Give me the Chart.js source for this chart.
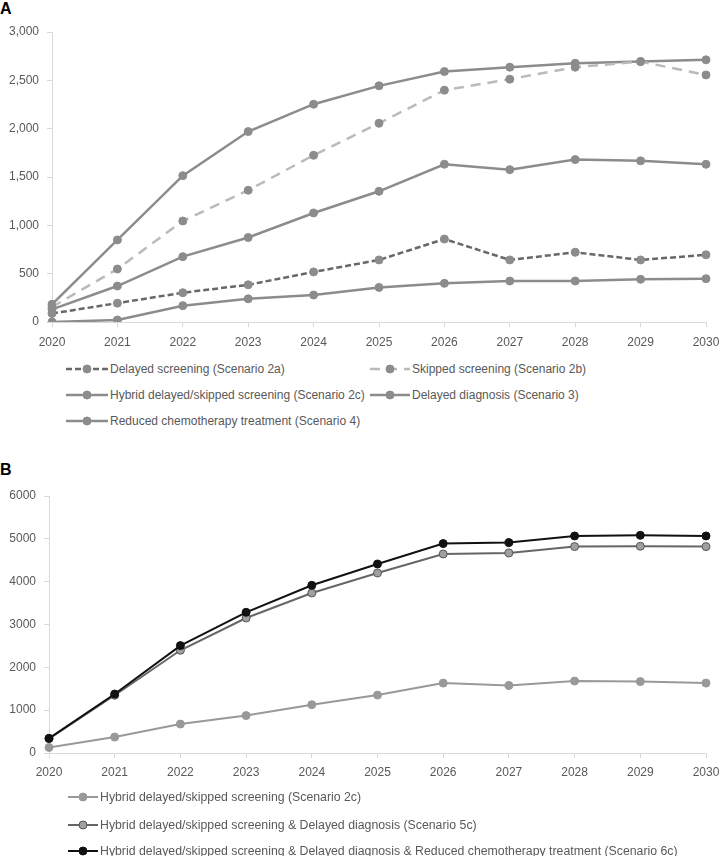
<!DOCTYPE html>
<html>
<head>
<meta charset="utf-8">
<script src="https://cdn.jsdelivr.net/npm/chart.js@4.4.1/dist/chart.umd.min.js"></script>
<style>
  body { margin: 0; background: #fff; font-family: "Liberation Sans", Arial, sans-serif; }
  #wrap { position: relative; width: 720px; height: 856px; overflow: hidden; }
  .panel { position: absolute; left: 0; font-weight: bold; font-size: 16px; color: #000; }
  .cv { position: absolute; left: 0; }
  .leg { position: absolute; font-size: 12px; color: #595959; white-space: nowrap; display: flex; align-items: center; }
  .leg.small { font-size: 12.3px; }
  .leg svg { margin-right: 2px; }
</style>
</head>
<body>
<div id="wrap">
  <div class="panel" style="top:0px;">A</div>
  <div class="cv" style="top:0px;width:720px;height:350px;"><canvas id="chartA"></canvas></div>
  <div class="panel" style="top:461px;">B</div>
  <div class="cv" style="top:480px;width:720px;height:310px;"><canvas id="chartB"></canvas></div>
  <div id="legends"></div>
</div>
<script>
// x-axis years
const years = ["2020", "2021", "2022", "2023", "2024", "2025", "2026", "2027", "2028", "2029", "2030"];

// panel A series
const delayedScreening2a = [88, 195, 303, 385, 518, 642, 858, 642, 721, 642, 695];
const skippedScreening2b = [155, 548, 1045, 1363, 1725, 2056, 2398, 2512, 2636, 2694, 2556];
const hybrid2c = [130, 372, 676, 874, 1128, 1352, 1632, 1576, 1680, 1667, 1632];
const delayedDiagnosis3 = [183, 849, 1514, 1970, 2253, 2443, 2591, 2636, 2677, 2694, 2712];
const reducedChemo4 = [0, 21, 169, 240, 279, 358, 400, 424, 424, 442, 448];

// panel B series
const hybridDiag5c = [335, 1348, 2398, 3152, 3736, 4203, 4646, 4670, 4819, 4827, 4819];
const hybridDiagChemo6c = [343, 1377, 2507, 3285, 3915, 4413, 4889, 4912, 5067, 5082, 5067];

// tick labels
const ticksA = [0, 500, 1000, 1500, 2000, 2500, 3000];
const ticksB = [0, 1000, 2000, 3000, 4000, 5000, 6000];

const textGrey = "#595959";
const axisGrey = "#d9d9d9";

function line(label, data, color, pointFill, pointBorder, dash, width) {
    return {
        label: label,
        data: data,
        borderColor: color,
        borderWidth: width || 2.5,
        borderDash: dash || [],
        pointRadius: 4,
        pointHoverRadius: 4,
        pointBackgroundColor: pointFill,
        pointBorderColor: pointBorder,
        pointBorderWidth: 1,
        tension: 0,
        fill: false
    };
}

function axes(tickVals, yWidth, xHeight, fmt, xPad) {
    return {
        x: {
            offset: false,
            grid: { display: true, drawOnChartArea: false, drawTicks: true, tickLength: 5, color: axisGrey },
            border: { display: true, color: axisGrey },
            ticks: { color: textGrey, font: { size: 12, family: "Liberation Sans" }, padding: xPad, maxRotation: 0, autoSkip: false },
            afterFit: function (s) { s.height = xHeight; s.paddingRight = 14; s.paddingLeft = 0; }
        },
        y: {
            min: tickVals[0],
            max: tickVals[tickVals.length - 1],
            grid: { display: true, drawOnChartArea: false, drawTicks: true, tickLength: 5, color: axisGrey },
            border: { display: true, color: axisGrey },
            afterBuildTicks: function (s) { s.ticks = tickVals.map(v => ({ value: v })); },
            ticks: { color: textGrey, font: { size: 12, family: "Liberation Sans" }, padding: 8, callback: fmt },
            afterFit: function (s) { s.width = yWidth; }
        }
    };
}

const baseOpts = (padTop, scales) => ({
    responsive: true,
    maintainAspectRatio: false,
    animation: false,
    layout: { padding: { top: padTop, right: 0, left: 0, bottom: 0 } },
    plugins: { legend: { display: false }, tooltip: { enabled: false } },
    scales: scales
});

const dsA = [
    line("Delayed screening (Scenario 2a)", delayedScreening2a, "#686868", "#8c8c8c", "#8c8c8c", [6, 3]),
    line("Skipped screening (Scenario 2b)", skippedScreening2b, "#bababa", "#8c8c8c", "#8c8c8c", [10, 7]),
    line("Hybrid delayed/skipped screening (Scenario 2c)", hybrid2c, "#8c8c8c", "#8c8c8c", "#8c8c8c"),
    line("Delayed diagnosis (Scenario 3)", delayedDiagnosis3, "#8c8c8c", "#8c8c8c", "#8c8c8c"),
    line("Reduced chemotherapy treatment (Scenario 4)", reducedChemo4, "#8c8c8c", "#8c8c8c", "#8c8c8c")
];

const dsB = [
    line("Hybrid delayed/skipped screening & Delayed diagnosis & Reduced chemotherapy treatment (Scenario 6c)", hybridDiagChemo6c, "#111111", "#111111", "#111111", null, 2),
    line("Hybrid delayed/skipped screening & Delayed diagnosis (Scenario 5c)", hybridDiag5c, "#666666", "#a0a0a0", "#555555", null, 2),
    line("Hybrid delayed/skipped screening (Scenario 2c)", hybrid2c, "#999999", "#999999", "#999999", null, 2)
];

new Chart(document.getElementById("chartA"), {
    type: "line",
    data: { labels: years, datasets: dsA },
    options: baseOpts(32, axes(ticksA, 52, 28, v => v.toLocaleString("en-US"), 8))
});

new Chart(document.getElementById("chartB"), {
    type: "line",
    data: { labels: years, datasets: dsB },
    options: baseOpts(16, axes(ticksB, 49, 37, v => String(v), 7))
});

// html legends, same look as the excel samples
function sample(ds, w) {
    const dash = ds.borderDash.length ? ` stroke-dasharray="${ds.borderDash.join(",")}"` : "";
    return `<svg width="${w}" height="10"><line x1="0" y1="5" x2="${w}" y2="5" stroke="${ds.borderColor}" stroke-width="${ds.borderWidth}"${dash}/>` +
        `<circle cx="${w / 2}" cy="5" r="4" fill="${ds.pointBackgroundColor}" stroke="${ds.pointBorderColor}" stroke-width="1"/></svg>`;
}

const legendSpots = [
    [dsA[0], 66, 369, 42, ""], [dsA[1], 370, 369, 40, ""],
    [dsA[2], 66, 395, 42, ""], [dsA[3], 370, 395, 40, ""],
    [dsA[4], 66, 421, 42, ""],
    [dsB[2], 68, 797, 30, "small"], [dsB[1], 68, 825, 30, "small"], [dsB[0], 68, 851, 30, "small"]
];
const box = document.getElementById("legends");
legendSpots.forEach(([ds, x, y, w, cls]) => {
    const d = document.createElement("div");
    d.className = "leg " + cls;
    d.style.left = x + "px";
    d.style.top = (y - 8) + "px";
    d.style.height = "16px";
    d.innerHTML = sample(ds, w) + "<span>" + ds.label + "</span>";
    box.appendChild(d);
});
</script>
</body>
</html>
